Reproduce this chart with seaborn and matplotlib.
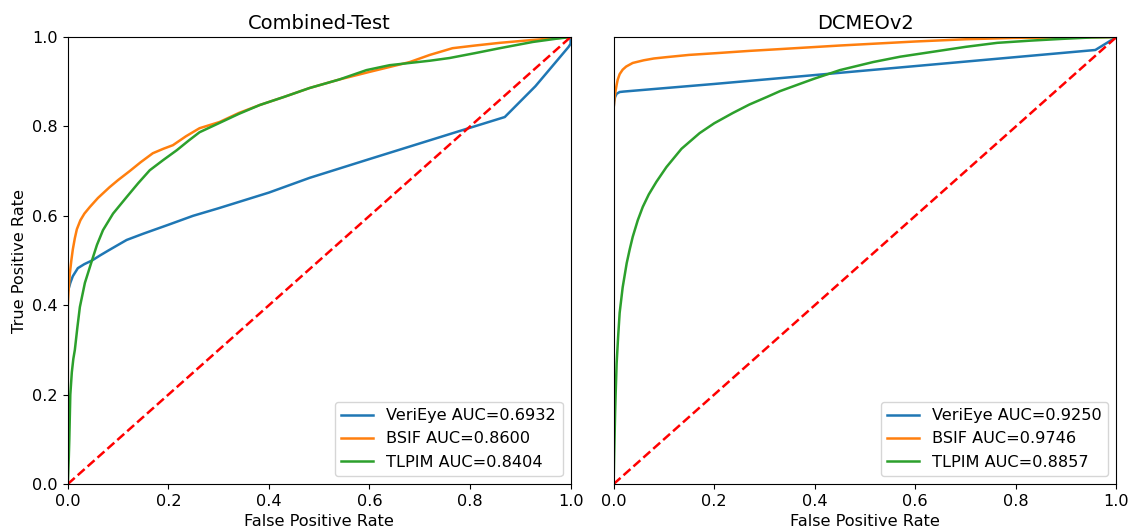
import matplotlib
matplotlib.use("Agg")
import matplotlib.pyplot as plt
import seaborn as sns
import pandas as pd

# ---------------- data ----------------
titles = ["Combined-Test", "DCMEOv2"]
methods = ["VeriEye", "BSIF", "TLPIM"]

# Combined-Test
ct_veri_fpr = [0.0, 0.0, 0.005, 0.01, 0.02, 0.033, 0.048, 0.065, 0.08, 0.1, 0.117, 0.15, 0.2, 0.249, 0.3, 0.4, 0.481, 0.6, 0.7, 0.8, 0.869, 0.93, 0.996, 1.0, 1.0]
ct_veri_tpr = [0.0, 0.43, 0.45, 0.465, 0.483, 0.492, 0.50, 0.512, 0.522, 0.535, 0.546, 0.56, 0.58, 0.60, 0.617, 0.652, 0.685, 0.727, 0.762, 0.797, 0.821, 0.89, 0.978, 0.985, 1.0]
ct_bsif_fpr = [0.0, 0.0, 0.002, 0.004, 0.007, 0.01, 0.014, 0.018, 0.025, 0.033, 0.044, 0.06, 0.083, 0.1, 0.123, 0.145, 0.169, 0.19, 0.209, 0.235, 0.262, 0.302, 0.34, 0.382, 0.43, 0.481, 0.54, 0.6, 0.68, 0.72, 0.765, 0.81, 0.859, 0.92, 0.978, 1.0]
ct_bsif_tpr = [0.0, 0.40, 0.44, 0.47, 0.50, 0.525, 0.55, 0.57, 0.59, 0.605, 0.62, 0.64, 0.664, 0.68, 0.70, 0.72, 0.74, 0.75, 0.758, 0.778, 0.796, 0.81, 0.83, 0.848, 0.866, 0.886, 0.905, 0.922, 0.944, 0.96, 0.975, 0.981, 0.987, 0.993, 0.998, 1.0]
ct_tlpim_fpr = [0.0, 0.002, 0.003, 0.005, 0.008, 0.011, 0.014, 0.019, 0.024, 0.034, 0.048, 0.058, 0.07, 0.09, 0.117, 0.14, 0.163, 0.19, 0.217, 0.24, 0.262, 0.302, 0.34, 0.382, 0.43, 0.481, 0.54, 0.594, 0.64, 0.68, 0.72, 0.759, 0.81, 0.859, 0.925, 0.97, 1.0]
ct_tlpim_tpr = [0.0, 0.06, 0.10, 0.20, 0.25, 0.28, 0.30, 0.35, 0.396, 0.45, 0.50, 0.535, 0.568, 0.605, 0.642, 0.673, 0.702, 0.725, 0.747, 0.768, 0.787, 0.808, 0.828, 0.848, 0.866, 0.886, 0.905, 0.926, 0.937, 0.942, 0.947, 0.953, 0.964, 0.975, 0.989, 0.996, 1.0]
ct_auc = [0.6932, 0.8600, 0.8404]

# DCMEOv2
dc_veri_fpr = [0.0, 0.0, 0.001, 0.003, 0.006, 0.012, 0.02, 0.2, 0.331, 0.6, 0.958, 1.0]
dc_veri_tpr = [0.0, 0.84, 0.855, 0.866, 0.873, 0.877, 0.878, 0.895, 0.908, 0.935, 0.971, 1.0]
dc_bsif_fpr = [0.0, 0.0, 0.002, 0.004, 0.006, 0.008, 0.012, 0.018, 0.025, 0.038, 0.06, 0.08, 0.105, 0.15, 0.205, 0.27, 0.331, 0.45, 0.6, 0.7, 0.795, 0.9, 1.0]
dc_bsif_tpr = [0.0, 0.84, 0.866, 0.88, 0.893, 0.904, 0.917, 0.927, 0.934, 0.942, 0.948, 0.952, 0.955, 0.96, 0.964, 0.969, 0.973, 0.981, 0.99, 0.995, 0.998, 0.999, 1.0]
dc_tlpim_fpr = [0.0, 0.001, 0.002, 0.003, 0.004, 0.006, 0.009, 0.012, 0.018, 0.026, 0.032, 0.038, 0.048, 0.058, 0.07, 0.085, 0.105, 0.135, 0.171, 0.2, 0.237, 0.27, 0.305, 0.331, 0.37, 0.397, 0.45, 0.516, 0.57, 0.629, 0.7, 0.763, 0.83, 0.894, 0.95, 1.0]
dc_tlpim_tpr = [0.0, 0.06, 0.11, 0.16, 0.20, 0.27, 0.33, 0.383, 0.44, 0.494, 0.525, 0.553, 0.59, 0.62, 0.648, 0.676, 0.709, 0.75, 0.785, 0.807, 0.83, 0.849, 0.866, 0.879, 0.895, 0.906, 0.926, 0.944, 0.956, 0.966, 0.978, 0.987, 0.992, 0.996, 0.999, 1.0]
dc_auc = [0.9250, 0.9746, 0.8857]

diag_x = [0.0, 1.0]
diag_y = [0.0, 1.0]

tick_vals = [0.0, 0.2, 0.4, 0.6, 0.8, 1.0]

panels = [
    (titles[0], [(ct_veri_fpr, ct_veri_tpr), (ct_bsif_fpr, ct_bsif_tpr), (ct_tlpim_fpr, ct_tlpim_tpr)], ct_auc),
    (titles[1], [(dc_veri_fpr, dc_veri_tpr), (dc_bsif_fpr, dc_bsif_tpr), (dc_tlpim_fpr, dc_tlpim_tpr)], dc_auc),
]

# ---------------- plot ----------------
plt.rcParams["font.family"] = ["DejaVu Sans"]
plt.rcParams["font.size"] = 11.6
colors = sns.color_palette("tab10", 3)

fig, axes = plt.subplots(1, 2, figsize=(11.3, 5.29), dpi=100, sharey=True)
fig.subplots_adjust(left=0.060, right=0.988, top=0.930, bottom=0.085, wspace=0.0855)

for ax, (title, curves, aucs) in zip(axes, panels):
    for (fpr, tpr), name, auc, c in zip(curves, methods, aucs, colors):
        df = pd.DataFrame({"fpr": fpr, "tpr": tpr})
        sns.lineplot(data=df, x="fpr", y="tpr", sort=False, estimator=None,
                     color=c, lw=1.8, label=f"{name} AUC={auc:.4f}", ax=ax)
    ax.plot(diag_x, diag_y, "r--", lw=1.8)
    ax.set_xlim(0, 1)
    ax.set_ylim(0, 1)
    ax.set_xticks(tick_vals)
    ax.set_yticks(tick_vals)
    ax.set_title(title, fontsize=14)
    ax.set_xlabel("False Positive Rate")
    ax.legend(loc="lower right", fontsize=11.6)

axes[0].set_ylabel("True Positive Rate")
axes[1].set_ylabel("")
axes[1].tick_params(axis="y", left=False, labelleft=False)

fig.savefig("out.png", dpi=100)
